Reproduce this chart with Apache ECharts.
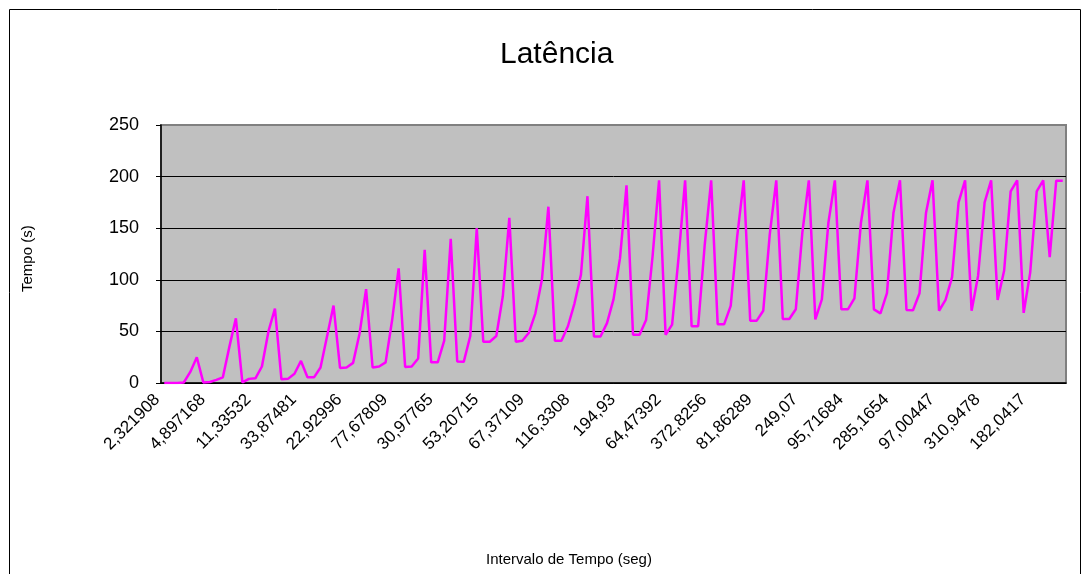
<!DOCTYPE html>
<html>
<head>
<meta charset="utf-8">
<script src="https://cdn.jsdelivr.net/npm/echarts@6/dist/echarts.min.js"></script>
<style>html,body{margin:0;padding:0;background:#fff;}#c{width:1082px;height:574px;}</style>
</head>
<body>
<div id="c"></div>
<script>
var titleText = 'Latência';
var xName = 'Intervalo de Tempo (seg)';
var yName = 'Tempo (s)';
var tickLabels = ['2,321908','4,897168','11,33532','33,87481','22,92996','77,67809','30,97765','53,20715','67,37109','116,3308','194,93','64,47392','372,8256','81,86289','249,07','95,71684','285,1654','97,00447','310,9478','182,0417'];
var latencia = [
0,0,0,0.5,10.7,25,0.6,1,3,5.5,35,62.7,0.6,4,4.5,16,50,72,3.6,4,
9,21.4,5.5,5.5,15,45,75,14.6,15,19.5,48,91,15,16,20,61,111,15.6,16,23.7,
129,20,20,41,139.6,20.8,20.5,45.5,150,40,40,45.5,84,160,40,41,48.7,67.5,100,170.8,
41,41,55,77,105,181,45,45,58,81,121,191.5,46.8,46.8,61,122.7,196.4,46.8,56.5,122,
196.4,55,55,133,196.4,57,57,74.7,142,196.4,60.4,60.4,70,144,196.4,62,62,71.4,145.5,196.4,
61.7,81,155,196.4,71.4,71.4,82,155,196.4,71.4,67.5,87,165,196.4,70.8,70.5,87,165,196.4,70,
80.5,102.6,175,196.4,70,104,175,196.4,80.5,109,185.7,196.4,68,107,185.7,196.4,122,196,196
];
var labelStep = 7;
var categories = latencia.map(function(v, i){
  return (i % labelStep === 0 && tickLabels[i / labelStep] !== undefined) ? tickLabels[i / labelStep] : '';
});

var chart = echarts.init(document.getElementById('c'), null, {renderer:'canvas'});
var font = '"Liberation Sans", Arial, sans-serif';
chart.setOption({
  animation: false,
  backgroundColor: '#ffffff',
  textStyle: {fontFamily: font},
  title: {
    text: titleText, left: 495, top: 35,
    textStyle: {fontFamily: font, fontSize: 30, fontWeight: 'normal', color: '#000'}
  },
  graphic: [{
    type: 'rect', shape: {x: 9.5, y: 9.5, width: 1071, height: 620},
    style: {fill: 'none', stroke: '#000', lineWidth: 1}, silent: true, z: -1
  }, {
    type: 'text', left: 486, top: 552,
    style: {text: xName, font: '15px "Liberation Sans", Arial, sans-serif', fill: '#000'}
  }, {
    type: 'text', x: 20, y: 292, rotation: Math.PI / 2,
    style: {text: yName, font: '15px "Liberation Sans", Arial, sans-serif', fill: '#000'}
  }],
  grid: {
    left: 161, top: 125, right: 16, bottom: 191,
    show: true, backgroundColor: '#C0C0C0', borderColor: '#808080', borderWidth: 2
  },
  xAxis: {
    type: 'category', data: categories, boundaryGap: true,
    axisLine: {lineStyle: {color: '#000', width: 1.5}},
    axisTick: {interval: 0, length: 5, lineStyle: {color: '#000', width: 1}},
    axisLabel: {interval: labelStep - 1, rotate: 45, fontSize: 17, color: '#000', margin: 7, padding: [0, 10, 0, 0], fontFamily: font},
    splitLine: {show: false}
  },
  yAxis: {
    type: 'value', min: 0, max: 250, interval: 50,
    axisLine: {show: true, lineStyle: {color: '#000', width: 1.5}},
    axisTick: {show: true, length: 5, lineStyle: {color: '#000'}},
    axisLabel: {fontSize: 18, color: '#000', margin: 22, fontFamily: font},
    splitLine: {show: true, lineStyle: {color: ['#000','#000','#000','#000','#000','#808080'], width: 1}}
  },
  series: [{
    type: 'line', data: latencia, symbol: 'none',
    lineStyle: {color: '#FF00FF', width: 2.5}, z: 5
  }]
});
</script>
</body>
</html>
